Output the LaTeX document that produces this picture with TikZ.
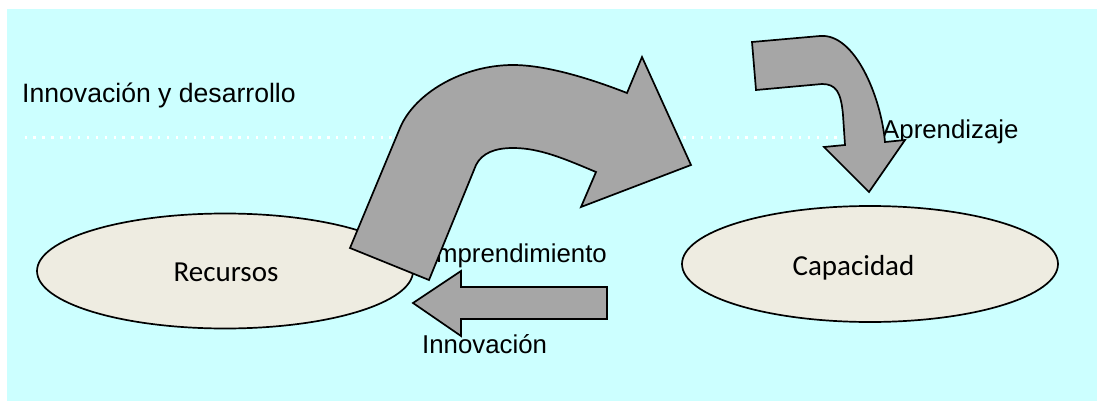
\documentclass[tikz,border=0pt]{standalone}
\usepackage{fontspec}
\setmainfont{Liberation Sans}
\newfontfamily\ovalfont{Carlito}
\usepackage{tikz}
\usetikzlibrary{shapes.geometric}

\definecolor{bgcyan}{RGB}{204,255,255}
\definecolor{ovalfill}{RGB}{238,236,225}
\definecolor{arrowgray}{RGB}{166,166,166}

\begin{document}
\begin{tikzpicture}
[
                   x =  1pt,
                   y = -1pt,
         oval/.style = { draw=black, fill=ovalfill, ellipse, line width=1.7pt, inner sep=0pt,
                         minimum width=376pt, minimum height=115pt },
     ovaltext/.style = { font=\ovalfont\fontsize{29}{34}\selectfont, anchor=base, inner sep=0pt },
    textlabel/.style = { font=\fontsize{25.8}{30}\selectfont, anchor=base west, inner sep=0pt },
   blockarrow/.style = { draw=black, fill=arrowgray, line width=1.7pt, line join=miter },
  dottedline/.style = { draw=white, line width=2.4pt, dash pattern=on 2.4pt off 6.5pt }
]

    \useasboundingbox (0,0) rectangle (1097,401);
    \fill[bgcyan] (7,9) rectangle (1097,401);

    \coordinate (LineStart) at (24.5,137.5);
    \coordinate (LineEnd)   at (845,137.5);
    \draw[dottedline] (LineStart) -- (LineEnd);

    \node (Recursos)  at (225,271) [oval] {};
    \node (Capacidad) at (870,264) [oval, minimum height=116pt] {};

    \node (RecursosLabel)  at (226,281)   [ovaltext] {Recursos};
    \node (CapacidadLabel) at (853.5,275) [ovaltext] {Capacidad};

    \node (DesarrolloLabel)     at (22,103)  [textlabel, font=\fontsize{26.6}{31}\selectfont] {Innovación y desarrollo};
    \node (EmprendimientoLabel) at (607,262) [textlabel, anchor=base east] {Emprendimiento};
    \node (InnovacionLabel)     at (422,353) [textlabel] {Innovación};
    \node (AprendizajeLabel)    at (882,139) [textlabel] {Aprendizaje};

    % curved arrow from Recursos up and over
    \draw[blockarrow] (350,248) -- (400,128)
        .. controls (414.6,93) and (463,65) .. (513,65)
        .. controls (550,65) and (599,82) .. (627,93)
        -- (642,57) -- (691,165) -- (581,207) -- (596,172)
        .. controls (565,159) and (540,148) .. (513,148)
        .. controls (495,148) and (482,153) .. (476,165)
        -- (429,280) -- cycle;

    % arrow bending down onto Capacidad
    \draw[blockarrow] (752,42) -- (820,36)
        .. controls (855,33) and (881,97) .. (885,142)
        -- (905,140) -- (869,192) -- (824,147) -- (845,145)
        -- (843,115) .. controls (841,92) and (836,84) .. (822,84)
        -- (756,90) -- cycle;

    % straight arrow back to Recursos
    \draw[blockarrow] (607,287) -- (461,287) -- (461,271) -- (413,303)
        -- (461,336) -- (461,319) -- (607,319) -- cycle;

\end{tikzpicture}
\end{document}
